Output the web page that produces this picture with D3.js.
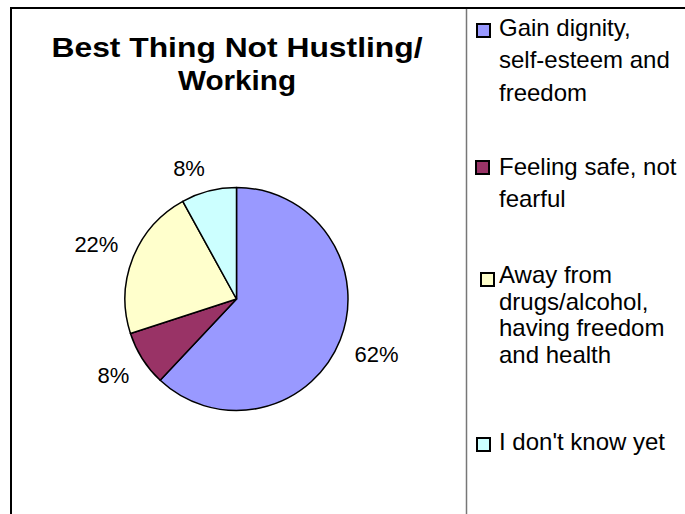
<!DOCTYPE html>
<html>
<head>
<meta charset="utf-8">
<script src="https://cdn.jsdelivr.net/npm/d3@7"></script>
<style>
  html, body { margin: 0; padding: 0; background: #fff; }
  svg { display: block; font-family: Arial, "Liberation Sans", sans-serif; }
</style>
</head>
<body>
<svg id="chart" width="685" height="514"></svg>
<script>
// Survey answers: best thing about not hustling / working
const categories = [
  "Gain dignity, self-esteem and freedom",
  "Feeling safe, not fearful",
  "Away from drugs/alcohol, having freedom and health",
  "I don't know yet"
];
const legendLines = [
  ["Gain dignity,", "self-esteem and", "freedom"],
  ["Feeling safe, not", "fearful"],
  ["Away from", "drugs/alcohol,", "having freedom", "and health"],
  ["I don't know yet"]
];
const values = [62, 8, 22, 8];
const percentLabels = ["62%", "8%", "22%", "8%"];
const colors = ["#9999FF", "#993366", "#FFFFCC", "#CCFFFF"];
const titleLines = ["Best Thing Not Hustling/", "Working"];

const svg = d3.select("#chart");

// Chart frame (continues past the right and bottom edges) and legend divider
svg.append("rect")
  .attr("x", 11).attr("y", 8)
  .attr("width", 720).attr("height", 560)
  .attr("fill", "#fff").attr("stroke", "#000").attr("stroke-width", 2);
svg.append("line")
  .attr("x1", 466.5).attr("x2", 466.5).attr("y1", 9).attr("y2", 514)
  .attr("stroke", "#777").attr("stroke-width", 1.5);

// Title, slightly wide-set
const titleWidths = [371, 118];
svg.append("g").selectAll("text")
  .data(titleLines)
  .join("text")
  .attr("x", 237)
  .attr("y", (d, i) => 56.5 + i * 33)
  .attr("text-anchor", "middle")
  .attr("font-size", 28)
  .attr("font-weight", "bold")
  .attr("fill", "#000")
  .attr("textLength", (d, i) => titleWidths[i])
  .attr("lengthAdjust", "spacingAndGlyphs")
  .text(d => d);

// Pie
const cx = 236.5, cy = 299, radius = 111.5;
const pie = d3.pie().sort(null).value(d => d).startAngle(0).endAngle(2 * Math.PI);
const arcs = pie(values);
const arc = d3.arc().innerRadius(0).outerRadius(radius);

const pieG = svg.append("g").attr("transform", `translate(${cx},${cy})`);
pieG.selectAll("path")
  .data(arcs)
  .join("path")
  .attr("d", arc)
  .attr("fill", (d, i) => colors[i])
  .attr("stroke", "#000")
  .attr("stroke-width", 1.5)
  .attr("stroke-linejoin", "round");

// Percent labels: the label box corner nearest the pie sits on the slice's mid-angle ray
const labelR = 127;
const labelG = pieG.append("g");
arcs.forEach((a, i) => {
  const mid = (a.startAngle + a.endAngle) / 2;
  const dx = Math.sin(mid), dy = -Math.cos(mid);
  const px = dx * labelR, py = dy * labelR;
  const t = labelG.append("text")
    .attr("font-size", 22)
    .attr("fill", "#000")
    .attr("text-anchor", "middle")
    .text(percentLabels[i]);
  const w = t.node().getComputedTextLength();
  const h = 16;
  const bx = px + Math.sign(dx) * w / 2;
  const by = py + Math.sign(dy) * h / 2;
  t.attr("x", bx).attr("y", by + h / 2);
});

// Legend
const legendItems = [
  { sx: 477, sy: 24, base: 36, step: 32.3 },
  { sx: 476, sy: 161, base: 174.5, step: 32 },
  { sx: 481, sy: 273, base: 283.3, step: 26.5 },
  { sx: 477, sy: 438, base: 450, step: 26.5 }
];
const legend = svg.append("g");
categories.forEach((c, i) => {
  const it = legendItems[i];
  legend.append("rect")
    .attr("x", it.sx).attr("y", it.sy)
    .attr("width", 13).attr("height", 13)
    .attr("fill", colors[i])
    .attr("stroke", "#000").attr("stroke-width", 2);
  const t = legend.append("text")
    .attr("font-size", 24)
    .attr("fill", "#000");
  t.selectAll("tspan")
    .data(legendLines[i])
    .join("tspan")
    .attr("x", 499)
    .attr("y", (d, j) => it.base + j * it.step)
    .text(d => d);
});
</script>
</body>
</html>
